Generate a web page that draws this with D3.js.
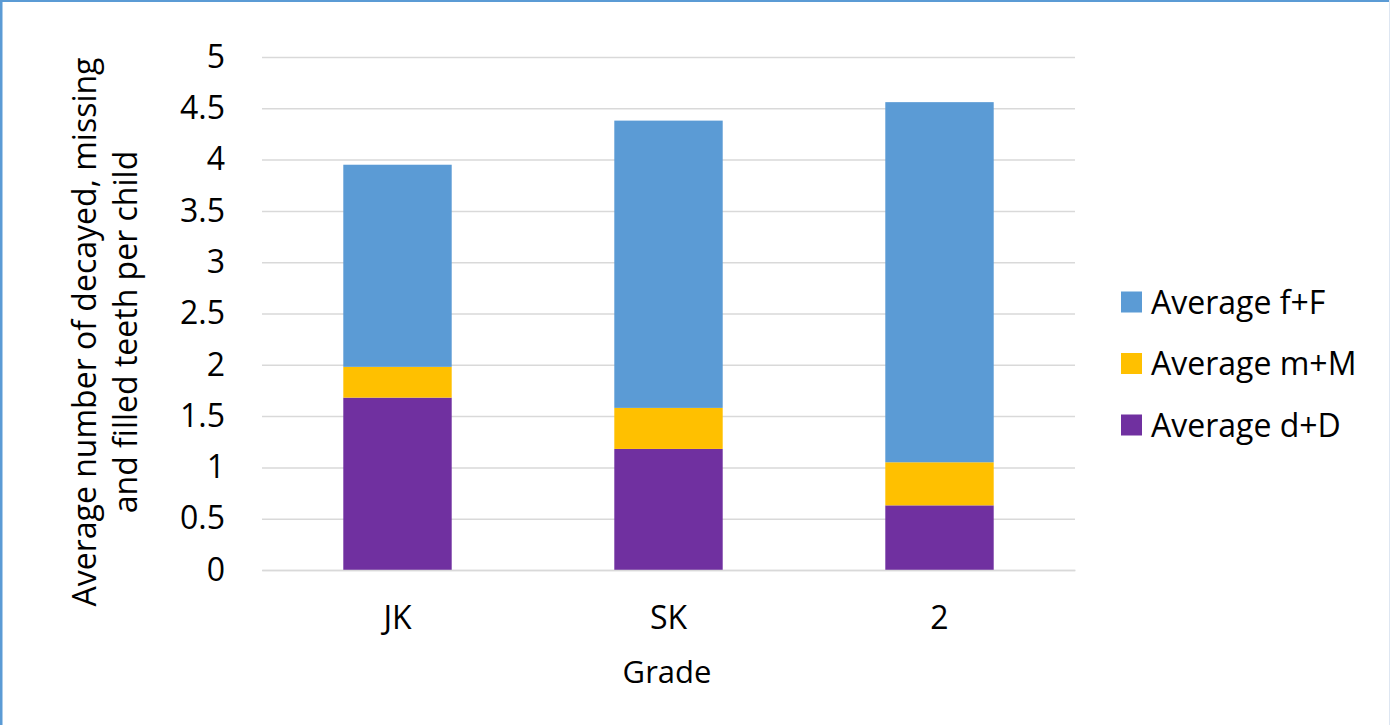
<!DOCTYPE html>
<html><head><meta charset="utf-8">
<script src="https://cdn.jsdelivr.net/npm/d3@7"></script>
<style>body{margin:0;background:#fff}svg{display:block}text{font-family:"Open Sans",sans-serif;fill:#000}</style>
</head><body><svg id="c" width="1390" height="725"></svg>
<script>
const categories = ["JK","SK","2"];
const dD = [1.68, 1.18, 0.63];
const mM = [0.30, 0.40, 0.42];
const fF = [1.97, 2.80, 3.51];
const seriesNames = ["Average d+D","Average m+M","Average f+F"];
const colors = ["#7030A0","#FFC000","#5B9BD5"];
const yTicks = [0,0.5,1,1.5,2,2.5,3,3.5,4,4.5,5];
const FONT = "'Open Sans', sans-serif";

const svg = d3.select("#c");
svg.append("rect").attr("x",0).attr("y",0).attr("width",1390).attr("height",725).attr("fill","#fff");
svg.append("line").attr("x1",1).attr("x2",1).attr("y1",0).attr("y2",725).attr("stroke","#5B9BD5").attr("stroke-width",3);
svg.append("line").attr("x1",0).attr("x2",1390).attr("y1",1).attr("y2",1).attr("stroke","#5B9BD5").attr("stroke-width",2);
svg.append("line").attr("x1",1389.5).attr("x2",1389.5).attr("y1",0).attr("y2",725).attr("stroke","#dde6f2").attr("stroke-width",1);

const x = d3.scaleBand().domain(categories).range([262,1075]).paddingInner(0.6).paddingOuter(0.3);
const y = d3.scaleLinear().domain([0,5]).range([570,57]);

const yAxis = svg.append("g").attr("transform","translate(262,0)")
  .call(d3.axisLeft(y).tickValues(yTicks).tickSize(-813).tickFormat(d=>d3.format("")(d)).tickPadding(37));
yAxis.select(".domain").remove();
yAxis.selectAll(".tick line").attr("stroke","#d9d9d9").attr("stroke-width",1.5);
yAxis.selectAll(".tick text").attr("font-size",32).attr("font-family",FONT).attr("fill","#000");

const data = categories.map((c,i)=>({cat:c, "Average d+D":dD[i], "Average m+M":mM[i], "Average f+F":fF[i]}));
const stack = d3.stack().keys(seriesNames)(data);
svg.append("g").selectAll("g").data(stack).join("g").attr("fill",(d,i)=>colors[i])
  .selectAll("rect").data(d=>d).join("rect")
  .attr("x",d=>x(d.data.cat)).attr("width",x.bandwidth())
  .attr("y",d=>y(d[1])).attr("height",d=>y(d[0])-y(d[1]));

const xAxis = svg.append("g").attr("transform","translate(0,570)")
  .call(d3.axisBottom(x).tickSize(0).tickPadding(36));
xAxis.select(".domain").attr("stroke","#d9d9d9").attr("stroke-width",1.5);
xAxis.selectAll(".tick text").attr("font-size",32).attr("font-family",FONT).attr("fill","#000");

svg.append("text").attr("x",667).attr("y",683).attr("text-anchor","middle").attr("font-size",31).text("Grade");

const yt = svg.append("text").attr("transform","rotate(-90)").attr("text-anchor","middle").attr("font-size",32);
yt.append("tspan").attr("x",-332).attr("y",96).text("Average number of decayed, missing");
yt.append("tspan").attr("x",-332).attr("y",137).text("and filled teeth per child");

const legendOrder = [2,1,0];
const lg = svg.append("g");
legendOrder.forEach((si,k)=>{
  const cy = 302 + k*61.5;
  lg.append("rect").attr("x",1121).attr("y",cy-10.5).attr("width",21).attr("height",21).attr("fill",colors[si]);
  lg.append("text").attr("x",1151).attr("y",cy+11.5).attr("font-size",32).text(seriesNames[si]);
});
</script></body></html>
